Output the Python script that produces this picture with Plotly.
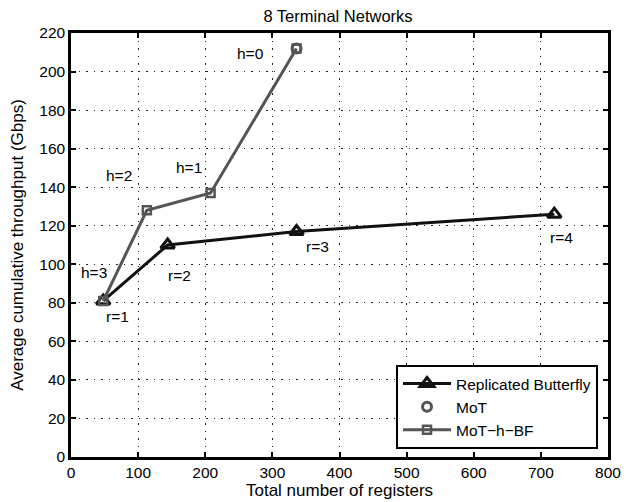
import plotly.graph_objects as go

# Data
rb_x = [48, 144, 336, 720]
rb_y = [81, 110, 117, 126]
rb_labels = ["r=1", "r=2", "r=3", "r=4"]

mot_x = [336]
mot_y = [212]

hbf_x = [48, 113, 208, 336]
hbf_y = [81, 128, 137, 212]
hbf_labels = ["h=3", "h=2", "h=1", "h=0"]

x_ticks = [0, 100, 200, 300, 400, 500, 600, 700, 800]
y_ticks = [0, 20, 40, 60, 80, 100, 120, 140, 160, 180, 200, 220]

# label offsets (in data units) relative to points
rb_off = [(22, -8), (18, -16), (31, -8), (10, -12)]
hbf_off = [(-14, 14.6), (-41.5, 18), (-32, 13), (-68, -2.5)]

FONT = "Liberation Sans, Arial, Helvetica, sans-serif"
BLACK = "#111111"
GRAY = "#555555"

fig = go.Figure()
fig.add_trace(go.Scatter(
    x=rb_x, y=rb_y, mode="lines+markers", name="Replicated Butterfly",
    line=dict(color=BLACK, width=3),
    marker=dict(symbol="triangle-up-open", size=12, color=BLACK, line=dict(width=3, color=BLACK)),
))
fig.add_trace(go.Scatter(
    x=mot_x, y=mot_y, mode="markers", name="MoT",
    marker=dict(symbol="circle-open", size=9, color=GRAY, line=dict(width=3, color=GRAY)),
))
fig.add_trace(go.Scatter(
    x=hbf_x, y=hbf_y, mode="lines+markers", name="MoT\u2212h\u2212BF",
    line=dict(color=GRAY, width=3),
    marker=dict(symbol="square-open", size=8, color=GRAY, line=dict(width=2.5, color=GRAY)),
))

for x, y, t, (dx, dy) in zip(rb_x, rb_y, rb_labels, rb_off):
    fig.add_annotation(x=x + dx, y=y + dy, text=t, showarrow=False,
                       font=dict(family=FONT, size=15.5, color="black"))
for x, y, t, (dx, dy) in zip(hbf_x, hbf_y, hbf_labels, hbf_off):
    fig.add_annotation(x=x + dx, y=y + dy, text=t, showarrow=False,
                       font=dict(family=FONT, size=15.5, color="black"))

axis_common = dict(
    showline=True, linecolor="black", linewidth=2.5, mirror="ticks",
    ticks="inside", ticklen=5, tickwidth=2, tickcolor="black",
    showgrid=True, gridcolor="#222222", griddash="1.5px,6px", gridwidth=1,
    zeroline=False, automargin=False,
    tickfont=dict(family=FONT, size=15.5, color="black"),
)

fig.update_xaxes(range=[0, 800], tickvals=x_ticks,
                 title=dict(text="Total number of registers", font=dict(family=FONT, size=17, color="black"), standoff=3),
                 **axis_common)
fig.update_yaxes(range=[0, 220], tickvals=y_ticks,
                 title=dict(text="Average cumulative throughput (Gbps)", font=dict(family=FONT, size=17, color="black"), standoff=13),
                 **axis_common)

# page body has an 8px default margin, so the figure is sized/padded to compensate
fig.update_layout(
    width=634, height=494,
    margin=dict(l=63, r=34, t=25, b=45),
    paper_bgcolor="white", plot_bgcolor="white",
    title=dict(text="8 Terminal Networks", x=0.5205, xanchor="center", y=0.995, yanchor="top",
               pad=dict(t=0, b=0), font=dict(family=FONT, size=16.5, color="black")),
    font=dict(family=FONT, size=15.5, color="black"),
    legend=dict(x=0.9814, y=0.019, xanchor="right", yanchor="bottom",
                bgcolor="white", bordercolor="black", borderwidth=2,
                font=dict(family=FONT, size=15.5, color="black"),
                tracegroupgap=0, itemwidth=48),
    showlegend=True,
)

fig.write_html("out.html")
